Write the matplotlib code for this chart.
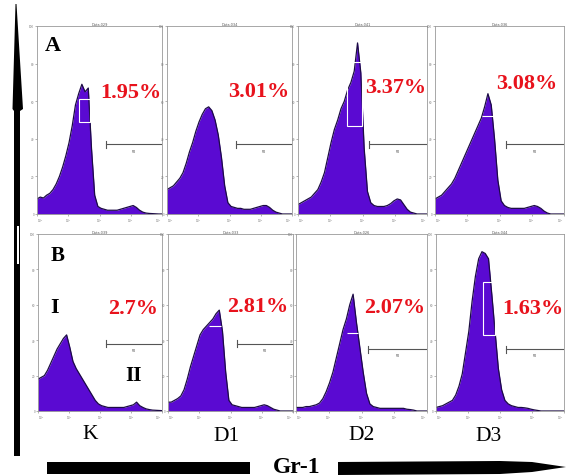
import numpy as np
import matplotlib
matplotlib.use("Agg")
import matplotlib.pyplot as plt
from matplotlib.patches import Polygon, Rectangle

# histogram bins on the log10 Gr-1 axis (0 .. 4 decades)
log_bins = np.linspace(0, 4, 40)

# counts, as a fraction of each panel's y range
hist_A = [
    [0.08, 0.09, 0.085, 0.10, 0.11, 0.13, 0.16, 0.20, 0.25, 0.31, 0.38, 0.47, 0.58, 0.64, 0.69, 0.65,
     0.67, 0.35, 0.10, 0.04, 0.03, 0.025, 0.02, 0.02, 0.02, 0.02, 0.025, 0.03, 0.035, 0.04, 0.045,
     0.035, 0.02, 0.01, 0.005, 0.003, 0.002, 0.001, 0.0, 0.0],
    [0.13, 0.14, 0.15, 0.17, 0.19, 0.22, 0.27, 0.33, 0.38, 0.44, 0.49, 0.53, 0.56, 0.57, 0.55, 0.50,
     0.42, 0.30, 0.15, 0.06, 0.04, 0.035, 0.03, 0.03, 0.025, 0.025, 0.025, 0.03, 0.035, 0.04, 0.045,
     0.045, 0.035, 0.02, 0.01, 0.005, 0.0, 0.0, 0.0, 0.0],
    [0.05, 0.06, 0.07, 0.08, 0.09, 0.11, 0.13, 0.17, 0.22, 0.30, 0.38, 0.45, 0.50, 0.56, 0.60, 0.66,
     0.70, 0.76, 0.91, 0.75, 0.35, 0.12, 0.06, 0.045, 0.04, 0.04, 0.04, 0.045, 0.055, 0.07, 0.08,
     0.075, 0.05, 0.025, 0.01, 0.005, 0.0, 0.0, 0.0, 0.0],
    [0.08, 0.09, 0.10, 0.12, 0.14, 0.16, 0.19, 0.23, 0.27, 0.31, 0.35, 0.39, 0.43, 0.47, 0.51, 0.57,
     0.64, 0.58, 0.40, 0.18, 0.07, 0.045, 0.035, 0.03, 0.03, 0.03, 0.03, 0.03, 0.035, 0.04, 0.045,
     0.04, 0.03, 0.015, 0.005, 0.0, 0.0, 0.0, 0.0, 0.0],
]
hist_B = [
    [0.18, 0.19, 0.20, 0.23, 0.27, 0.31, 0.35, 0.38, 0.41, 0.43, 0.36, 0.28, 0.24, 0.21, 0.18, 0.15,
     0.12, 0.09, 0.06, 0.04, 0.03, 0.025, 0.02, 0.02, 0.02, 0.02, 0.02, 0.02, 0.025, 0.03, 0.035,
     0.05, 0.03, 0.02, 0.012, 0.008, 0.005, 0.004, 0.003, 0.002],
    [0.05, 0.05, 0.06, 0.07, 0.085, 0.12, 0.18, 0.25, 0.31, 0.37, 0.43, 0.46, 0.48, 0.50, 0.52, 0.55,
     0.57, 0.45, 0.22, 0.06, 0.035, 0.03, 0.025, 0.02, 0.02, 0.02, 0.02, 0.02, 0.025, 0.03, 0.035,
     0.03, 0.02, 0.01, 0.005, 0.0, 0.0, 0.0, 0.0, 0.0],
    [0.02, 0.02, 0.02, 0.025, 0.025, 0.03, 0.035, 0.045, 0.07, 0.11, 0.16, 0.22, 0.30, 0.38, 0.46,
     0.52, 0.60, 0.66, 0.50, 0.36, 0.22, 0.10, 0.04, 0.025, 0.02, 0.015, 0.015, 0.015, 0.015, 0.015,
     0.015, 0.015, 0.015, 0.01, 0.008, 0.005, 0.0, 0.0, 0.0, 0.0],
    [0.02, 0.025, 0.03, 0.04, 0.05, 0.06, 0.09, 0.14, 0.21, 0.33, 0.45, 0.62, 0.76, 0.86, 0.90, 0.89,
     0.86, 0.66, 0.45, 0.24, 0.12, 0.06, 0.04, 0.03, 0.025, 0.02, 0.02, 0.018, 0.015, 0.01, 0.006,
     0.003, 0.0, 0.0, 0.0, 0.0, 0.0, 0.0, 0.0, 0.0],
]
pct_A = ["1.95%", "3.01%", "3.37%", "3.08%"]
pct_B = ["2.7%", "2.81%", "2.07%", "1.63%"]
groups = ["K", "D1", "D2", "D3"]
titles_A = ["Data.029", "Data.034", "Data.041", "Data.036"]
titles_B = ["Data.039", "Data.033", "Data.026", "Data.044"]
# M1 marker level (fraction of y range)
m1_A = [0.37, 0.37, 0.37, 0.37]
m1_B = [0.38, 0.38, 0.35, 0.35]
# white gate boxes: (log lo, log hi, y lo, y hi) or None
box_A = [(1.34, 1.70, 0.49, 0.61), None, (1.52, 1.98, 0.47, 0.81), (1.46, 2.08, 0.52, 0.52)]
box_B = [None, (1.30, 1.68, 0.48, 0.48), (1.55, 1.89, 0.44, 0.44), (1.47, 1.84, 0.43, 0.73)]

W, H = 572, 477
fig = plt.figure(figsize=(W / 100, H / 100), dpi=100)
fig.patch.set_facecolor("white")


def fx(x):
    return x / W


def fy(y):
    return 1 - y / H


cols_A = [(37, 162), (167, 292), (298, 427), (435, 564)]
cols_B = [(38, 162), (168, 293), (296, 427), (436, 564)]
row_A = (27, 215)
row_B = (235, 412)

fill_col = "#5a0ad2"
edge_col = "#1c0b45"


def draw_panel(col, row, counts, title, m1, box):
    ax = fig.add_axes([fx(col[0]), fy(row[1]), fx(col[1] - col[0]), (row[1] - row[0]) / H])
    xs = 10 ** log_bins
    ax.fill_between(xs, 0, counts, color=fill_col, lw=0)
    ax.plot(xs, counts, color=edge_col, lw=0.9)
    if box is not None:
        ax.add_patch(Rectangle((10 ** box[0], box[2]), 10 ** box[1] - 10 ** box[0], box[3] - box[2],
                               fill=False, ec="white", lw=0.8, zorder=3))
    # M1 marker
    ax.plot([10 ** 2.2, 10 ** 4], [m1, m1], color="#555555", lw=0.8)
    ax.plot([10 ** 2.2, 10 ** 2.2], [m1 - 0.02, m1 + 0.02], color="#555555", lw=0.8)
    ax.text(10 ** 3.1, m1 - 0.025, "M1", fontsize=2, ha="center", va="top", color="#555555")
    ax.set_xscale("log")
    ax.set_xlim(1, 1e4)
    ax.set_ylim(0, 1)
    ax.set_xticks([1, 10, 100, 1000, 10000])
    ax.set_xticklabels(["$10^0$", "$10^1$", "$10^2$", "$10^3$", "$10^4$"], fontsize=2, color="#666666")
    labels = ax.get_xticklabels()
    labels[0].set_ha("left")
    labels[-1].set_ha("right")
    ax.xaxis.set_minor_locator(plt.NullLocator())
    ax.set_yticks([0, 0.2, 0.4, 0.6, 0.8, 1.0])
    ax.set_yticklabels(["0", "20", "40", "60", "80", "100"], fontsize=2, color="#666666")
    ax.tick_params(length=1.5, width=0.4, pad=0.5, colors="#777777")
    for s in ax.spines.values():
        s.set_color("#999999")
        s.set_linewidth(0.6)
    ax.set_title(title, fontsize=2.5, pad=1, color="#555555")
    return ax


for i in range(4):
    draw_panel(cols_A[i], row_A, hist_A[i], titles_A[i], m1_A[i], box_A[i])
    draw_panel(cols_B[i], row_B, hist_B[i], titles_B[i], m1_B[i], box_B[i])

serif = "Liberation Serif"
red = "#e8121c"

pct_pos_A = [(131, 93), (259, 92), (396, 88), (527, 84)]
pct_pos_B = [(133, 309), (258, 307), (395, 308), (533, 309)]
for (x, y), t in zip(pct_pos_A, pct_A):
    fig.text(fx(x), fy(y), t, color=red, fontsize=16, fontweight="bold", family=serif,
             ha="center", va="center")
for (x, y), t in zip(pct_pos_B, pct_B):
    fig.text(fx(x), fy(y), t, color=red, fontsize=16, fontweight="bold", family=serif,
             ha="center", va="center")

fig.text(fx(53), fy(46), "A", fontsize=16, fontweight="bold", family=serif, ha="center", va="center")
fig.text(fx(58), fy(256), "B", fontsize=15, fontweight="bold", family=serif, ha="center", va="center")
fig.text(fx(55), fy(308), "I", fontsize=16, fontweight="bold", family=serif, ha="center", va="center")
fig.text(fx(133), fy(376), "II", fontsize=15, fontweight="bold", family=serif, ha="center", va="center")

grp_pos = [(90, 435), (227, 437), (362, 436), (489, 437)]
for (x, y), t in zip(grp_pos, groups):
    fig.text(fx(x), fy(y), t, fontsize=15.5, family=serif, ha="center", va="center")

fig.text(fx(297), fy(468), "Gr-1", fontsize=17, fontweight="bold", family=serif, ha="center", va="center")

# vertical arrow on the left
v_arrow = [(14, 457), (14, 112), (12.5, 110), (15.5, 5), (16.5, 5), (23, 110), (20, 112), (20, 457)]
fig.add_artist(Polygon([(fx(x), fy(y)) for x, y in v_arrow], closed=True, fc="black", ec="none",
                       transform=fig.transFigure))
fig.add_artist(Polygon([(fx(x), fy(y)) for x, y in [(17.3, 227), (19, 227), (19, 265), (17.3, 265)]],
                       closed=True, fc="white", ec="none", transform=fig.transFigure))

# horizontal bars at the bottom
left_bar = [(47, 463), (250, 463), (250, 475), (47, 475)]
fig.add_artist(Polygon([(fx(x), fy(y)) for x, y in left_bar], closed=True, fc="black", ec="none",
                       transform=fig.transFigure))
right_arrow = [(338, 463), (500, 462), (532, 463), (566, 468), (532, 473), (500, 475), (338, 476)]
fig.add_artist(Polygon([(fx(x), fy(y)) for x, y in right_arrow], closed=True, fc="black", ec="none",
                       transform=fig.transFigure))

fig.savefig("out.png", dpi=100)
